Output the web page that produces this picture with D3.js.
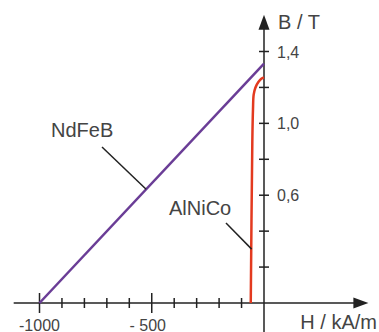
<!DOCTYPE html>
<html lang="de">
<head>
    <meta charset="UTF-8">
    <title>Entmagnetisierungskurven</title>
    <script src="https://d3js.org/d3.v7.min.js"></script>
    <style>
        body { margin: 0; background: #fff; }
        svg text { font-family: "Liberation Sans", Arial, sans-serif; fill: #444; }
    </style>
</head>
<body>
<div id="chart"></div>
<script>
    // Data
    var ndfebH = [-1000, 0];
    var ndfebB = [0, 1.333];
    var alnicoH = [-59, -52, -49, -46, -38, -25, -12, 0];
    var alnicoB = [0, 0.9, 1.08, 1.16, 1.2, 1.23, 1.248, 1.255];
    var xMajor = [-1000, -500];
    var xMajorLabels = ["-1000", "- 500"];
    var xMinor = [-900, -800, -700, -600, -400, -300, -200, -100];
    var yTicks = [0.2, 0.4, 0.6, 0.8, 1.0, 1.2, 1.4];
    var yLabelTicks = [0.6, 1.0, 1.4];
    var yLabels = ["0,6", "1,0", "1,4"];

    var width = 379, height = 332;

    var svg = d3.select("#chart").append("svg")
        .attr("width", width)
        .attr("height", height);

    // Scales
    var x = d3.scaleLinear().domain([-1000, 0]).range([39.5, 264]);
    var y = d3.scaleLinear().domain([0, 1.4]).range([303, 51.5]);

    var axisColor = "#222";

    // x axis line with arrow
    svg.append("line")
        .attr("x1", x(-1115)).attr("x2", x(430))
        .attr("y1", y(0)).attr("y2", y(0))
        .attr("stroke", axisColor).attr("stroke-width", 1.5);
    svg.append("path")
        .attr("d", "M" + x(465) + "," + y(0) + "l-15,-5.5l0,11z")
        .attr("fill", axisColor);

    // y axis line with arrow
    svg.append("line")
        .attr("x1", x(0)).attr("x2", x(0))
        .attr("y1", height).attr("y2", y(1.53))
        .attr("stroke", axisColor).attr("stroke-width", 1.5);
    svg.append("path")
        .attr("d", "M" + x(0) + "," + y(1.605) + "l-5.5,15l11,0z")
        .attr("fill", axisColor);

    // x ticks
    svg.selectAll(".xminor").data(xMinor).enter().append("line")
        .attr("x1", function (d) { return x(d); }).attr("x2", function (d) { return x(d); })
        .attr("y1", y(0) - 5).attr("y2", y(0) + 5)
        .attr("stroke", axisColor).attr("stroke-width", 1.5);
    svg.selectAll(".xmajor").data(xMajor).enter().append("line")
        .attr("x1", function (d) { return x(d); }).attr("x2", function (d) { return x(d); })
        .attr("y1", y(0) - 10).attr("y2", y(0) + 10)
        .attr("stroke", axisColor).attr("stroke-width", 1.5);
    svg.selectAll(".xlab").data(xMajor).enter().append("text")
        .attr("x", function (d) { return x(d) - (d === -500 ? 4 : 0); })
        .attr("y", y(0) + 28)
        .attr("text-anchor", "middle")
        .attr("font-size", 16)
        .text(function (d, i) { return xMajorLabels[i]; });

    // y ticks
    svg.selectAll(".ytick").data(yTicks).enter().append("line")
        .attr("x1", x(0) - 5).attr("x2", x(0) + 5)
        .attr("y1", function (d) { return y(d); }).attr("y2", function (d) { return y(d); })
        .attr("stroke", axisColor).attr("stroke-width", 1.5);
    svg.selectAll(".ylab").data(yLabelTicks).enter().append("text")
        .attr("x", x(0) + 13)
        .attr("y", function (d) { return y(d) + 6; })
        .attr("font-size", 16)
        .text(function (d, i) { return yLabels[i]; });

    // axis titles
    svg.append("text")
        .attr("x", x(0) + 14).attr("y", 29)
        .attr("font-size", 20)
        .text("B / T");
    svg.append("text")
        .attr("x", width - 2).attr("y", 329)
        .attr("text-anchor", "end")
        .attr("font-size", 20)
        .text("H / kA/m");

    // curves
    var line = d3.line()
        .x(function (d) { return x(d[0]); })
        .y(function (d) { return y(d[1]); });

    svg.append("path")
        .datum(d3.zip(ndfebH, ndfebB))
        .attr("d", line)
        .attr("fill", "none")
        .attr("stroke", "#6a3d96")
        .attr("stroke-width", 2.5);

    svg.append("path")
        .datum(d3.zip(alnicoH, alnicoB))
        .attr("d", line.curve(d3.curveCatmullRom))
        .attr("fill", "none")
        .attr("stroke", "#e33a1f")
        .attr("stroke-width", 2.5);

    // labels with leader lines
    svg.append("text")
        .attr("x", 51).attr("y", 137)
        .attr("font-size", 20)
        .text("NdFeB");
    svg.append("line")
        .attr("x1", 102).attr("y1", 147)
        .attr("x2", x(-525)).attr("y2", y(1.333 * 0.475))
        .attr("stroke", "#222").attr("stroke-width", 1.5);

    svg.append("text")
        .attr("x", 169).attr("y", 215)
        .attr("font-size", 20)
        .text("AlNiCo");
    svg.append("line")
        .attr("x1", 226).attr("y1", 223)
        .attr("x2", x(-55)).attr("y2", y(0.3))
        .attr("stroke", "#222").attr("stroke-width", 1.5);
</script>
</body>
</html>
